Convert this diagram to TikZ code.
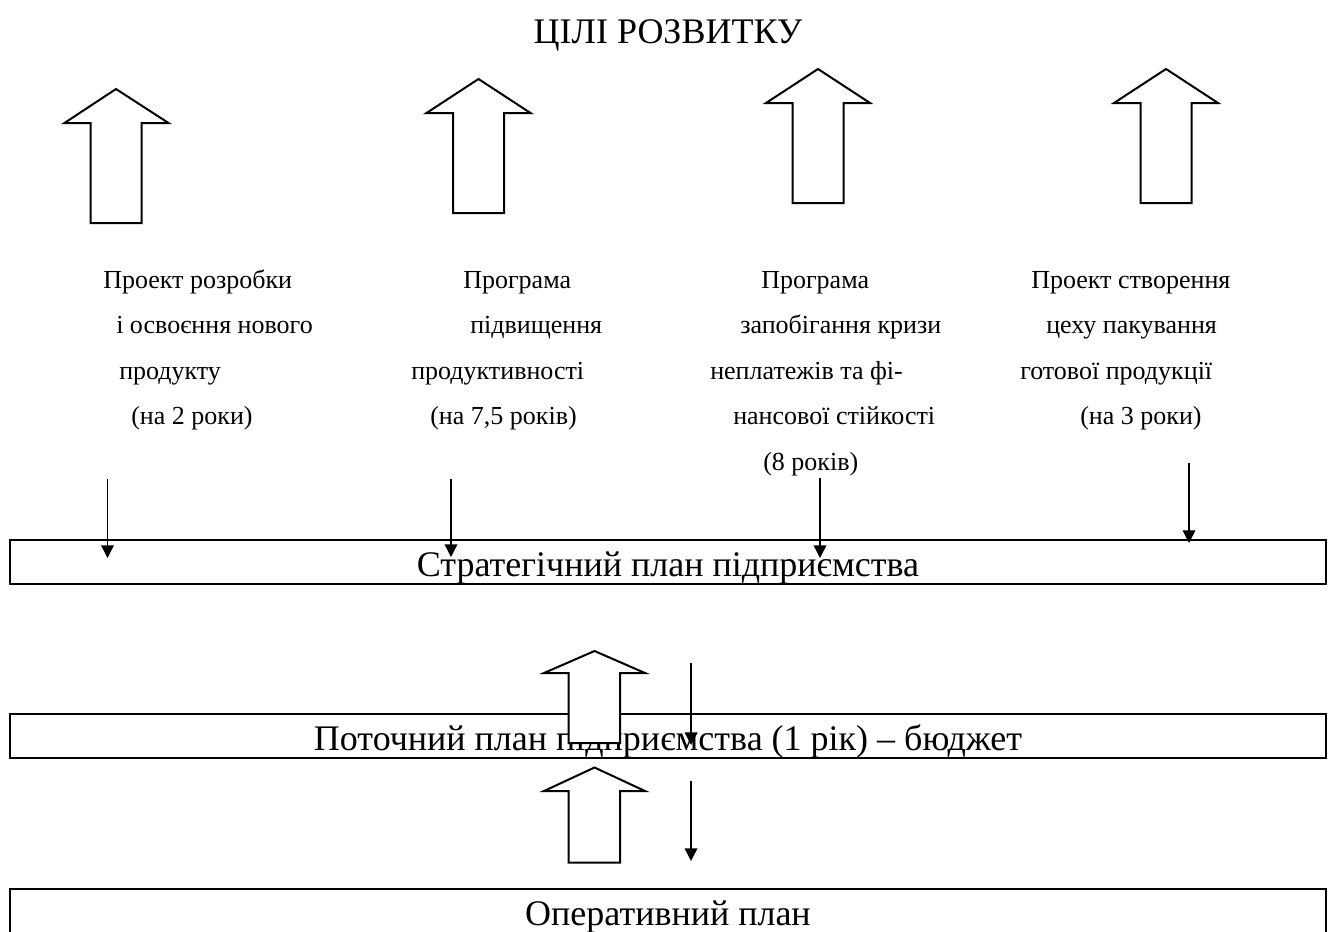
\documentclass[tikz,border=0pt]{standalone}
\usepackage{fontspec}
\setmainfont{Liberation Serif}
\usetikzlibrary{arrows.meta}

\begin{document}
\begin{tikzpicture}[x=0.75pt,y=0.75pt,yscale=-1,xscale=1,
  lbl/.style={anchor=base west, inner sep=0pt, font=\fontsize{19.5}{23}\selectfont},
  headlbl/.style={anchor=base, inner sep=0pt, font=\fontsize{27}{32}\selectfont},
  planbox/.style={draw, line width=1pt, minimum width=987pt, minimum height=33pt, inner sep=0pt,
    text height=27pt, text depth=6pt, font=\fontsize{27}{32}\selectfont},
  bigarrow/.style={draw, fill=white, line width=1.5pt, line join=miter},
  thinarrow/.style={line width=1pt, -{Triangle[length=9.5pt,width=9.5pt]}}]
\useasboundingbox (0,0) rectangle (1333,931);

% Text Node
\node[headlbl] (goals) at (668,44) {ЦІЛІ РОЗВИТКУ};

%Plan boxes
\node[planbox] (strat) at (668,562) {Стратегічний план підприємства};
\node[planbox] (budget) at (668,736) {Поточний план підприємства (1 рік) – бюджет};
\node[planbox] (oper) at (668,911) {Оперативний план};

%Up Arrow
\draw[bigarrow] (116,89) -- (168.5,123) -- (141.5,123) -- (141.5,223) -- (90.5,223) -- (90.5,123) -- (64.5,123) -- cycle ;
%Up Arrow
\draw[bigarrow] (478.5,79) -- (530.5,113) -- (504,113) -- (504,213) -- (453,213) -- (453,113) -- (426.5,113) -- cycle ;
%Up Arrow
\draw[bigarrow] (818,69) -- (870,103) -- (843.5,103) -- (843.5,203) -- (792.5,203) -- (792.5,103) -- (766,103) -- cycle ;
%Up Arrow
\draw[bigarrow] (1166,69) -- (1218,103) -- (1191.5,103) -- (1191.5,203) -- (1140.5,203) -- (1140.5,103) -- (1114,103) -- cycle ;
%Up Arrow
\draw[bigarrow] (594.5,651) -- (645,673) -- (620,673) -- (620,743) -- (568.5,743) -- (568.5,673) -- (544,673) -- cycle ;
%Up Arrow
\draw[bigarrow] (594.5,767.5) -- (645,791) -- (620,791) -- (620,862.5) -- (568.5,862.5) -- (568.5,791) -- (544,791) -- cycle ;

% Text Node
\node[lbl] (pr1a) at (103,288) {Проект розробки};
\node[lbl] (pr1b) at (116,333.5) {і освоєння нового};
\node[lbl] (pr1c) at (119,379) {продукту};
\node[lbl] (pr1d) at (131,424.5) {(на 2 роки)};
% Text Node
\node[lbl] (pr2a) at (463,288) {Програма};
\node[lbl] (pr2b) at (470,333.5) {підвищення};
\node[lbl] (pr2c) at (411,379) {продуктивності};
\node[lbl] (pr2d) at (430,424.5) {(на 7,5 років)};
% Text Node
\node[lbl] (pr3a) at (761,288) {Програма};
\node[lbl] (pr3b) at (740,333.5) {запобігання кризи};
\node[lbl] (pr3c) at (710,379) {неплатежів та фі-};
\node[lbl] (pr3d) at (733,424.5) {нансової стійкості};
\node[lbl] (pr3e) at (763,470) {(8 років)};
% Text Node
\node[lbl] (pr4a) at (1031,288) {Проект створення};
\node[lbl] (pr4b) at (1046,333.5) {цеху пакування};
\node[lbl] (pr4c) at (1020,379) {готової продукції};
\node[lbl] (pr4d) at (1080,424.5) {(на 3 роки)};

%Straight Lines
\coordinate (s1) at (107.5,479); \coordinate (e1) at (107.5,558);
\coordinate (s2) at (451,479);   \coordinate (e2) at (451,557);
\coordinate (s3) at (820,478);   \coordinate (e3) at (820,558);
\coordinate (s4) at (1189,463);  \coordinate (e4) at (1189,543);
\coordinate (s5) at (691,663);   \coordinate (e5) at (691,745);
\coordinate (s6) at (691,781);   \coordinate (e6) at (691,861);
\draw[thinarrow] (s1) -- (e1) ;
\draw[thinarrow] (s2) -- (e2) ;
\draw[thinarrow] (s3) -- (e3) ;
\draw[thinarrow] (s4) -- (e4) ;
\draw[thinarrow] (s5) -- (e5) ;
\draw[thinarrow] (s6) -- (e6) ;

\end{tikzpicture}
\end{document}
